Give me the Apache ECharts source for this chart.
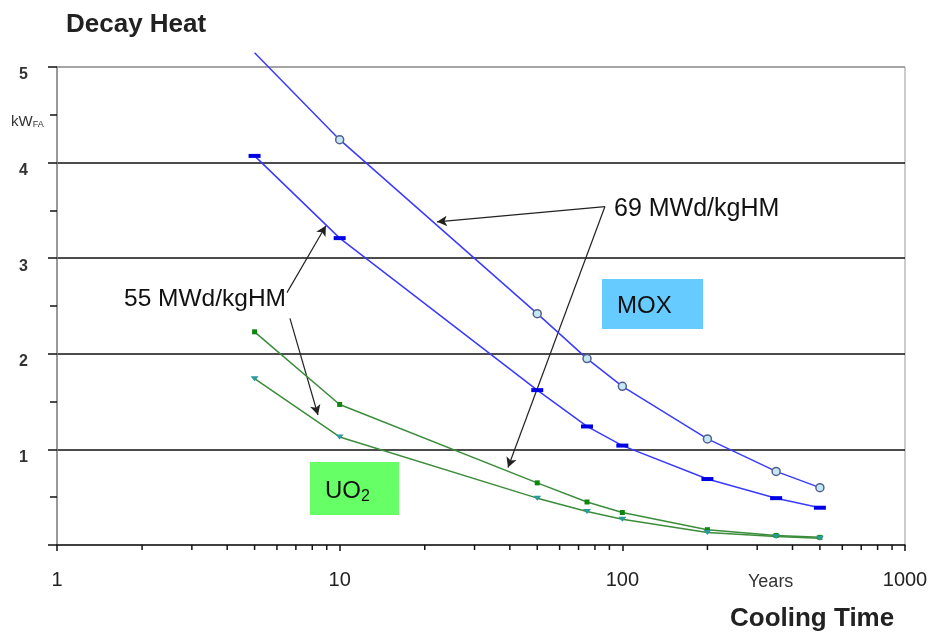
<!DOCTYPE html>
<html>
<head>
<meta charset="utf-8">
<script src="https://cdn.jsdelivr.net/npm/echarts@6/dist/echarts.min.js"></script>
<style>
    html, body { margin: 0; padding: 0; background: #fff; }
    #chart { width: 932px; height: 632px; }
</style>
</head>
<body>
<div id="chart"></div>
<script>
    // cooling time in years
    var years = [5, 10, 50, 75, 100, 200, 350, 500];
    // decay heat kW per fuel assembly
    var mox69 = [5.15, 4.24, 2.42, 1.95, 1.66, 1.11, 0.77, 0.60];
    var mox55 = [4.07, 3.21, 1.62, 1.24, 1.04, 0.69, 0.49, 0.39];
    var uo269 = [2.23, 1.47, 0.65, 0.45, 0.34, 0.16, 0.10, 0.08];
    var uo255 = [1.74, 1.13, 0.49, 0.35, 0.27, 0.13, 0.09, 0.07];
    var minorYears = [2, 3, 4, 5, 6, 7, 8, 9, 20, 30, 40, 50, 60, 70, 80, 90, 200, 300, 400, 500, 600, 700, 800, 900];

    function pairs(ys) {
        return years.map(function (x, i) { return [x, ys[i]]; });
    }

    var font = '"Liberation Sans", Arial, sans-serif';
    var chart = echarts.init(document.getElementById('chart'));

    var mox69Data = pairs(mox69);
    // the first point runs off the top, no marker there
    mox69Data[0] = { value: mox69Data[0], symbol: 'none' };

    var arrowStyle = { color: '#222', width: 1.2, type: 'solid' };

    var option = {
        animation: false,
        backgroundColor: '#fff',
        textStyle: { fontFamily: font },
        grid: {
            left: 57, right: 27, top: 67, bottom: 87,
            show: true, borderColor: '#999', borderWidth: 1
        },
        xAxis: {
            type: 'log',
            logBase: 10,
            min: 1,
            max: 1000,
            axisLine: { lineStyle: { color: '#111', width: 1.5 } },
            axisTick: { show: true, length: 6, lineStyle: { color: '#111', width: 1.5 } },
            axisLabel: {
                margin: 25, fontSize: 20, color: '#222', fontFamily: font,
                formatter: function (v) { return String(v); }
            },
            splitLine: { show: false }
        },
        yAxis: {
            type: 'value',
            min: 0,
            max: 5,
            interval: 1,
            axisLine: { show: true, lineStyle: { color: '#888', width: 1.5 } },
            axisTick: { show: true, length: 9, lineStyle: { color: '#111', width: 1.5 } },
            minorTick: { show: true, splitNumber: 2, length: 7, lineStyle: { color: '#111', width: 1.5 } },
            axisLabel: {
                margin: 29, fontSize: 16, fontWeight: 'bold', color: '#333', fontFamily: font,
                verticalAlign: 'top',
                formatter: function (v) { return v === 0 ? '' : String(v); }
            },
            splitLine: {
                show: true,
                lineStyle: { color: ['transparent', '#111', '#111', '#111', '#111', '#999'], width: 1.5 }
            }
        },
        series: [
            {
                name: 'MOX 69',
                type: 'line',
                clip: false,
                data: mox69Data,
                symbol: 'circle',
                symbolSize: 8,
                lineStyle: { color: '#3a3aff', width: 1.5 },
                itemStyle: { color: '#c4e8f6', borderColor: '#55608a', borderWidth: 1.5 },
                z: 5
            },
            {
                name: 'MOX 55',
                type: 'line',
                data: pairs(mox55),
                symbol: 'rect',
                symbolSize: [12, 4],
                lineStyle: { color: '#3a3aff', width: 1.5 },
                itemStyle: { color: '#0000e6' },
                z: 5
            },
            {
                name: 'UO2 69',
                type: 'line',
                data: pairs(uo269),
                symbol: 'rect',
                symbolSize: 5,
                lineStyle: { color: '#3b8c3b', width: 1.5 },
                itemStyle: { color: '#0f870f' },
                z: 5
            },
            {
                name: 'UO2 55',
                type: 'line',
                data: pairs(uo255),
                symbol: 'triangle',
                symbolRotate: 180,
                symbolSize: [8, 5],
                lineStyle: { color: '#3b8c3b', width: 1.5 },
                itemStyle: { color: '#2a9a9a' },
                z: 5
            },
            {
                // minor ticks of the log axis
                type: 'custom',
                clip: false,
                silent: true,
                data: minorYears.map(function (x) { return [x, 0]; }),
                renderItem: function (params, api) {
                    var p = api.coord([api.value(0), 0]);
                    return {
                        type: 'line',
                        shape: { x1: p[0], y1: p[1], x2: p[0], y2: p[1] + 5 },
                        style: { stroke: '#111', lineWidth: 1.5 }
                    };
                },
                z: 3
            },
            {
                // annotation arrows
                type: 'line',
                data: [],
                silent: true,
                markLine: {
                    silent: true,
                    symbol: ['none', 'arrow'],
                    symbolSize: [8, 10],
                    label: { show: false },
                    lineStyle: arrowStyle,
                    data: [
                        [{ coord: [86.8, 3.54] }, { coord: [22.1, 3.38] }],
                        [{ coord: [86.8, 3.54] }, { coord: [39.4, 0.81] }],
                        [{ coord: [6.51, 2.64] }, { coord: [8.94, 3.34] }],
                        [{ coord: [6.67, 2.37] }, { coord: [8.38, 1.36] }]
                    ]
                },
                z: 6
            }
        ],
        graphic: [
            {
                type: 'text', left: 66, top: 12,
                style: { text: 'Decay Heat', font: 'bold 26px ' + font, fill: '#222' }
            },
            {
                type: 'text', left: 11, top: 114,
                style: {
                    text: 'kW{s|FA}',
                    font: '15px ' + font, fill: '#333',
                    rich: { s: { fontSize: 9, padding: [6, 0, 0, 0] } }
                }
            },
            {
                type: 'text', left: 748, top: 573,
                style: { text: 'Years', font: '18px ' + font, fill: '#333' }
            },
            {
                type: 'text', left: 730, top: 606,
                style: { text: 'Cooling Time', font: 'bold 26px ' + font, fill: '#222' }
            },
            {
                type: 'text', left: 614, top: 197,
                style: { text: '69 MWd/kgHM', font: '25px ' + font, fill: '#111' }
            },
            {
                type: 'text', left: 124, top: 287,
                style: { text: '55 MWd/kgHM', font: '24.5px ' + font, fill: '#111' }
            },
            {
                type: 'rect', left: 602, top: 279,
                shape: { width: 101, height: 50 },
                style: { fill: '#66ccff' }
            },
            {
                type: 'text', left: 617, top: 294,
                style: { text: 'MOX', font: '24px ' + font, fill: '#111' }
            },
            {
                type: 'rect', left: 310, top: 462,
                shape: { width: 89, height: 53 },
                style: { fill: '#66ff66' }
            },
            {
                type: 'text', left: 325, top: 479,
                style: {
                    text: 'UO{s|2}',
                    font: '24px ' + font, fill: '#111',
                    rich: { s: { fontSize: 16, padding: [12, 0, 0, 0] } }
                }
            }
        ]
    };

    chart.setOption(option);
</script>
</body>
</html>
